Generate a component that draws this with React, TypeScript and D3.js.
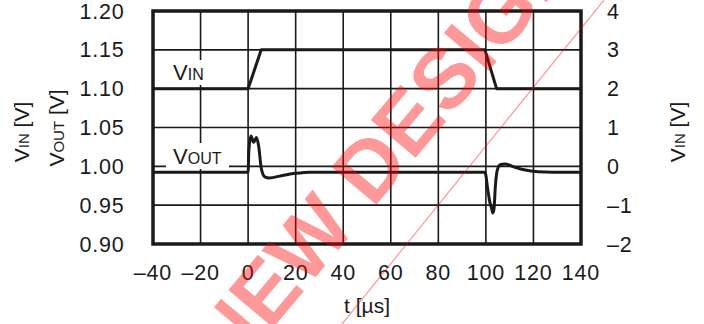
import React from "react";
import * as d3 from "d3";

const xTicks = [-40, -20, 0, 20, 40, 60, 80, 100, 120, 140];
const yLeftTicks = [0.9, 0.95, 1.0, 1.05, 1.1, 1.15, 1.2];
const yRightTicks = [-2, -1, 0, 1, 2, 3, 4];

const vinTime = [-40, 0, 5.5, 99.6, 104.5, 140];
const vinValues = [2, 2, 3, 3, 2, 2];

const voutTime = [-40, 0, 0.3, 1.2, 2.3, 3.5, 4.5, 5.5, 7, 9, 14, 20, 26, 99.6, 100.8, 101.8, 102.4, 102.9, 103.4, 104, 104.8, 106, 108, 112, 116, 122, 128, 140];
const voutValues = [0.9925, 0.9925, 1.02, 1.039, 1.031, 1.037, 1.025, 0.998, 0.9865, 0.985, 0.988, 0.991, 0.9925, 0.9925, 0.97, 0.952, 0.946, 0.94, 0.945, 0.975, 0.995, 1.002, 1.003, 0.999, 0.9955, 0.993, 0.9925, 0.9925];

const W = 704, H = 324;
const L = 153, R = 581, T = 11, B = 244;
const FONT = "'Liberation Sans', Arial, Helvetica, sans-serif";
const INK = "#1a1a1a";
const TICK_FS = 21.5;
const TICK_LS = 0.8;

const fmtLeft = (v: number) => v.toFixed(2);
const fmtSigned = (v: number) => (v < 0 ? "\u2013" + Math.abs(v) : String(v));

export default function App() {
  const x = d3.scaleLinear().domain([-40, 140]).range([L, R]);
  const yL = d3.scaleLinear().domain([0.9, 1.2]).range([B, T]);
  const yR = d3.scaleLinear().domain([-2, 4]).range([B, T]);

  const vinLine = d3
    .line<number>()
    .x((_, i) => x(vinTime[i]))
    .y((d) => yR(d))(vinValues) as string;

  const voutLine = d3
    .line<number>()
    .x((_, i) => x(voutTime[i]))
    .y((d) => yL(d))
    .curve(d3.curveMonotoneX)(voutValues) as string;

  // watermark geometry
  const ang = -50;
  const wmX = 230, wmY = 379;

  return (
    <svg width={W} height={H} style={{ position: "absolute", left: 0, top: 0, background: "#fff" }} fontFamily={FONT}>
      {/* grid */}
      {xTicks.slice(1, -1).map((t) => (
        <line key={"gx" + t} x1={x(t)} x2={x(t)} y1={T} y2={B} stroke={INK} strokeWidth={1.6} />
      ))}
      {yLeftTicks.slice(1, -1).map((t) => (
        <line key={"gy" + t} x1={L} x2={R} y1={yL(t)} y2={yL(t)} stroke={INK} strokeWidth={1.6} />
      ))}

      {/* label boxes */}
      <rect x={166} y={60} width={42} height={25} fill="#fff" />
      <rect x={166} y={143} width={63} height={26} fill="#fff" />
      <text x={173} y={80} fontSize={22} fill={INK}>
        V<tspan fontSize={16}>IN</tspan>
      </text>
      <text x={173} y={164} fontSize={22} fill={INK}>
        V<tspan fontSize={16}>OUT</tspan>
      </text>

      {/* data */}
      <path d={vinLine} fill="none" stroke={INK} strokeWidth={3} strokeLinejoin="round" />
      <path d={voutLine} fill="none" stroke={INK} strokeWidth={3} strokeLinejoin="round" />

      {/* frame */}
      <rect x={L} y={T} width={R - L} height={B - T} fill="none" stroke={INK} strokeWidth={3.5} />

      {/* left ticks */}
      {yLeftTicks.map((t) => (
        <text key={"yl" + t} x={124.5} y={yL(t) + 7.5} fontSize={TICK_FS} letterSpacing={TICK_LS} textAnchor="end" fill={INK}>
          {fmtLeft(t)}
        </text>
      ))}
      {/* right ticks */}
      {yRightTicks.map((t) => (
        <text key={"yr" + t} x={607} y={yR(t) + 7.5} fontSize={TICK_FS} letterSpacing={TICK_LS} textAnchor="start" fill={INK}>
          {fmtSigned(t)}
        </text>
      ))}
      {/* x ticks */}
      {xTicks.map((t) => (
        <text key={"xt" + t} x={x(t)} y={280} fontSize={TICK_FS} letterSpacing={TICK_LS} textAnchor="middle" fill={INK}>
          {fmtSigned(t)}
        </text>
      ))}

      {/* axis titles */}
      <text transform="translate(29,132) rotate(-90)" fontSize={21} textAnchor="middle" fill={INK}>
        V<tspan fontSize={15}>IN</tspan> [V]
      </text>
      <text transform="translate(64,128) rotate(-90)" fontSize={21} textAnchor="middle" fill={INK}>
        V<tspan fontSize={15}>OUT</tspan> [V]
      </text>
      <text transform="translate(685,132) rotate(-90)" fontSize={21} textAnchor="middle" fill={INK}>
        V<tspan fontSize={15}>IN</tspan> [V]
      </text>
      <text x={367} y={313} fontSize={21} textAnchor="middle" fill={INK}>
        t [µs]
      </text>

      {/* watermark */}
      <g opacity={0.4}>
        <text transform={`translate(${wmX},${wmY}) rotate(${ang})`} fontSize={85} fontWeight="bold" fill="#ff0000">
          NEW DESIGNS
        </text>
        <line x1={342} y1={324} x2={604} y2={0} stroke="#ff0000" strokeWidth={1.2} />
      </g>
    </svg>
  );
}
